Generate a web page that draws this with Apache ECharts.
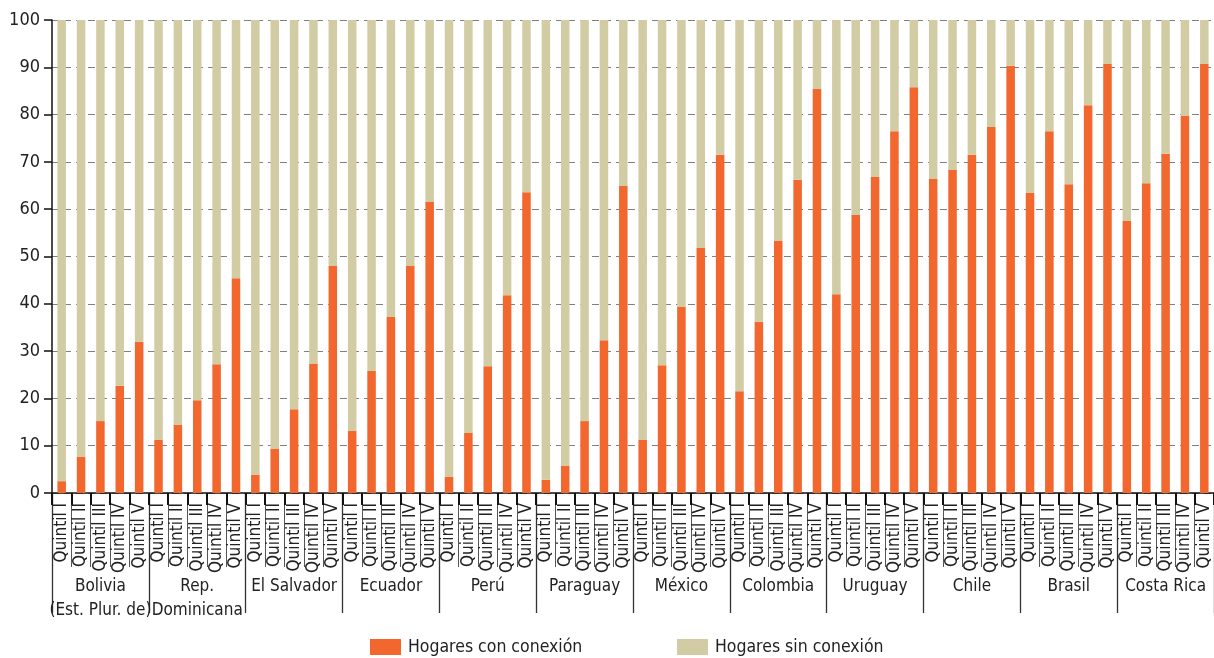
<!DOCTYPE html>
<html>
<head>
<meta charset="utf-8">
<script src="https://cdn.jsdelivr.net/npm/echarts@6/dist/echarts.min.js"></script>
<style>
html,body{margin:0;padding:0;background:#fff;}
#chart{width:1214px;height:658px;}
</style>
</head>
<body>
<div id="chart"></div>
<script>
const countries = ['Bolivia\n(Est. Plur. de)', 'Rep.\nDominicana', 'El Salvador', 'Ecuador', 'Perú', 'Paraguay', 'México', 'Colombia', 'Uruguay', 'Chile', 'Brasil', 'Costa Rica'];
const quintiles = ['Quintil I', 'Quintil II', 'Quintil III', 'Quintil IV', 'Quintil V'];
const yTicks = [0, 10, 20, 30, 40, 50, 60, 70, 80, 90, 100];
// Hogares con conexión (%), 5 quintiles per country
const conConexion = [
  2.5, 7.7, 15.2, 22.7, 32.0,
  11.2, 14.4, 19.6, 27.2, 45.4,
  3.9, 9.4, 17.7, 27.4, 48.0,
  13.1, 25.8, 37.2, 48.0, 61.5,
  3.4, 12.7, 26.8, 41.8, 63.6,
  2.8, 5.8, 15.2, 32.3, 64.9,
  11.2, 27.0, 39.3, 51.8, 71.5,
  21.5, 36.2, 53.3, 66.2, 85.4,
  42.0, 58.8, 66.8, 76.5, 85.8,
  66.4, 68.3, 71.5, 77.4, 90.3,
  63.4, 76.5, 65.3, 82.0, 90.7,
  57.5, 65.5, 71.7, 79.7, 90.7
];
// Hogares sin conexión (%)
const sinConexion = [
  97.5, 92.3, 84.8, 77.3, 68.0,
  88.8, 85.6, 80.4, 72.8, 54.6,
  96.1, 90.6, 82.3, 72.6, 52.0,
  86.9, 74.2, 62.8, 52.0, 38.5,
  96.6, 87.3, 73.2, 58.2, 36.4,
  97.2, 94.2, 84.8, 67.7, 35.1,
  88.8, 73.0, 60.7, 48.2, 28.5,
  78.5, 63.8, 46.7, 33.8, 14.6,
  58.0, 41.2, 33.2, 23.5, 14.2,
  33.6, 31.7, 28.5, 22.6, 9.7,
  36.6, 23.5, 34.7, 18.0, 9.3,
  42.5, 34.5, 28.3, 20.3, 9.3
];

const FONT = "'Liberation Sans Narrow', 'DejaVu Sans Condensed', 'Roboto', sans-serif";
const categories = [];
countries.forEach((c, ci) => quintiles.forEach((q) => categories.push(ci + '|' + q)));

const chart = echarts.init(document.getElementById('chart'), null, {renderer: 'canvas'});
chart.setOption({
  animation: false,
  backgroundColor: '#ffffff',
  textStyle: {fontFamily: FONT},
  grid: {left: 52, top: 20, bottom: 165, width: 1172, containLabel: false},
  legend: [
    {data: ['Hogares con conexión'], left: 370, top: 638, padding: 0, itemWidth: 31, itemHeight: 16, icon: 'rect',
     textStyle: {fontFamily: FONT, fontSize: 17.5, color: '#222', padding: [0, 0, 0, 2]}},
    {data: ['Hogares sin conexión'], left: 677, top: 638, padding: 0, itemWidth: 31, itemHeight: 16, icon: 'rect',
     textStyle: {fontFamily: FONT, fontSize: 17.5, color: '#222', padding: [0, 0, 0, 2]}}
  ],
  xAxis: [
    {
      type: 'category', data: categories, position: 'bottom', boundaryGap: true,
      axisLine: {show: true, lineStyle: {color: '#111', width: 1.5}},
      axisTick: {show: true, interval: 0, length: 74, lineStyle: {color: '#555', width: 1}},
      axisLabel: {interval: 0, rotate: 90, margin: 10, fontFamily: FONT, fontSize: 17, color: '#222',
        formatter: (v) => v.split('|')[1]},
      splitLine: {show: false}
    },
    {
      type: 'category', data: countries, position: 'bottom', boundaryGap: true,
      axisLine: {show: false},
      axisTick: {show: true, interval: 0, length: 120, lineStyle: {color: '#333', width: 1.3}},
      axisLabel: {interval: 0, margin: 82, fontFamily: FONT, fontSize: 17, lineHeight: 24, color: '#222'},
      splitLine: {show: false}
    },
    {
      type: 'category', data: categories, position: 'bottom', boundaryGap: true,
      axisLine: {show: false},
      axisTick: {show: true, interval: 0, length: 12, lineStyle: {color: '#111', width: 2}},
      axisLabel: {show: false},
      splitLine: {show: false}
    }
  ],
  yAxis: {
    type: 'value', min: yTicks[0], max: yTicks[yTicks.length - 1], interval: 10,
    axisLine: {show: true, lineStyle: {color: '#111', width: 1.5}},
    axisTick: {show: true, length: 8, lineStyle: {color: '#111', width: 1.5}},
    axisLabel: {margin: 12, fontFamily: FONT, fontSize: 18, color: '#222'},
    splitLine: {show: true, lineStyle: {color: '#808080', width: 1, type: [7, 5]}}
  },
  series: [
    {name: 'Hogares con conexión', type: 'bar', stack: 'total', xAxisIndex: 0, data: conConexion,
     barWidth: '44%', itemStyle: {color: '#F1672E'}},
    {name: 'Hogares sin conexión', type: 'bar', stack: 'total', xAxisIndex: 0, data: sinConexion,
     barWidth: '44%', itemStyle: {color: '#D2CCA5'}}
  ]
});
</script>
</body>
</html>
